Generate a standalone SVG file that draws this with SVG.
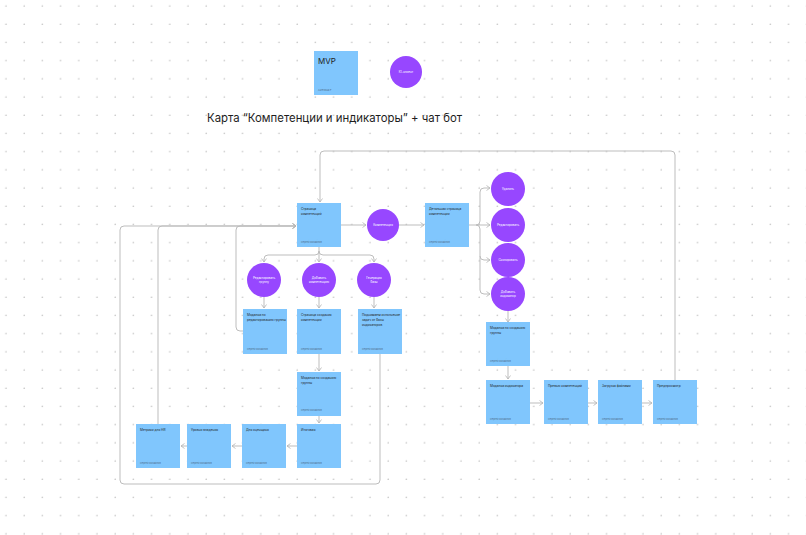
<svg xmlns="http://www.w3.org/2000/svg" width="806" height="535" viewBox="0 0 806 535">
<defs>
<pattern id="dots" x="0" y="0" width="18.2" height="18.2" patternUnits="userSpaceOnUse">
<circle cx="6" cy="6" r="0.8" fill="#c4c4c4"/>
</pattern>
<marker id="ah" markerWidth="6" markerHeight="6" refX="4.5" refY="3" orient="auto" markerUnits="userSpaceOnUse">
<path d="M1,0.5 L4.5,3 L1,5.5" fill="none" stroke="#b5b5b5" stroke-width="0.8"/>
</marker>
<style>
.st{fill:#80c6fd;}
.t{font-family:"Inter","Liberation Sans",sans-serif;font-size:3.2px;fill:#1e1e1e;}
.cap{font-family:"Inter","Liberation Sans",sans-serif;font-size:2.4px;fill:#4f6f8c;}
.ci{fill:#9747ff;}
.ct{font-family:"Inter","Liberation Sans",sans-serif;font-size:3px;fill:#ffffff;text-anchor:middle;}
.c{fill:none;stroke:#bdbdbd;stroke-width:1;}
.a{marker-end:url(#ah);}
</style>
</defs>
<rect width="806" height="535" fill="#ffffff"/>
<rect width="806" height="535" fill="url(#dots)"/>

<g id="mvp">
<rect class="st" x="314" y="51" width="44" height="44"/>
<text x="318" y="64" style="font-family:'Inter','Liberation Sans',sans-serif;font-size:8px;fill:#1e1e1e">MVP</text>
<text class="cap" x="318" y="91">Ангелина Р.</text>
</g>
<g id="client">
<circle class="ci" cx="406" cy="72" r="16"/>
<text class="ct" x="406" y="73">Ю-клиент</text>
</g>
<g id="title">
<text x="207" y="122" textLength="255" lengthAdjust="spacingAndGlyphs" style="font-family:'Inter','Liberation Sans',sans-serif;font-size:11.5px;fill:#1e1e1e">Карта “Компетенции и индикаторы” + чат бот</text>
</g>

<g id="connectors">
<path class="c a" d="M341,225 H366"/>
<path class="c a" d="M399,225 H424"/>
<path class="c a" d="M469,225 H476 Q480,225 480,221 V192 Q480,188 484,188 H490"/>
<path class="c a" d="M476,225 H490"/>
<path class="c a" d="M476,225 Q480,225 480,229 V256 Q480,260 484,260 H490"/>
<path class="c a" d="M480,256 V290 Q480,294 484,294 H490"/>
<path class="c a" d="M508,311 V322"/>
<path class="c a" d="M508,366 V379"/>
<path class="c a" d="M530,403 H543"/>
<path class="c a" d="M588,403 H597"/>
<path class="c a" d="M642,403 H652"/>
<path class="c a" d="M675,380 V155 Q675,151 671,151 H324 Q320,151 320,155 V202"/>
<path class="c a" d="M319,247 V262"/>
<path class="c a" d="M319,251 Q319,255 315,255 H268 Q264,255 264,259 V262"/>
<path class="c a" d="M319,251 Q319,255 323,255 H370 Q374,255 374,259 V262"/>
<path class="c a" d="M264,297 V308"/>
<path class="c a" d="M319,297 V308"/>
<path class="c a" d="M374,297 V308"/>
<path class="c a" d="M319,354 V371"/>
<path class="c a" d="M319,416 V423"/>
<path class="c a" d="M297,446 H287"/>
<path class="c a" d="M242,446 H232"/>
<path class="c a" d="M187,446 H181"/>
<path class="c a" d="M158,424 V230 Q158,226 162,226 H296"/>
<path class="c a" d="M243,331 H240 Q236,331 236,327 V230 Q236,226 240,226 H296"/>
<path class="c a" d="M380,354 V480 Q380,484 376,484 H124 Q120,484 120,480 V230 Q120,226 124,226 H296"/>
</g>

<g id="page-competencies">
<rect class="st" x="297" y="203" width="44" height="44"/>
<text class="t" x="301" y="210">Страница</text>
<text class="t" x="301" y="215">компетенций</text>
<text class="cap" x="301" y="243">Сергей Михайлов</text>
</g>
<g id="competency">
<circle class="ci" cx="383" cy="225" r="16"/>
<text class="ct" x="383" y="226">Компетенция</text>
</g>
<g id="detail-page">
<rect class="st" x="425" y="203" width="44" height="44"/>
<text class="t" x="429" y="210">Детальная страница</text>
<text class="t" x="429" y="215">компетенции</text>
<text class="cap" x="429" y="243">Сергей Михайлов</text>
</g>
<g id="delete">
<circle class="ci" cx="508" cy="189" r="17"/>
<text class="ct" x="508" y="190">Удалить</text>
</g>
<g id="edit">
<circle class="ci" cx="508" cy="225" r="17"/>
<text class="ct" x="508" y="226">Редактировать</text>
</g>
<g id="copy">
<circle class="ci" cx="508" cy="260" r="17"/>
<text class="ct" x="508" y="261">Скопировать</text>
</g>
<g id="add-indicator">
<circle class="ci" cx="508" cy="294" r="17"/>
<text class="ct" x="508" y="293">Добавить</text>
<text class="ct" x="508" y="297">индикатор</text>
</g>
<g id="modal-right">
<rect class="st" x="486" y="322" width="44" height="44"/>
<text class="t" x="490" y="329">Модалка по созданию</text>
<text class="t" x="490" y="334">группы</text>
<text class="cap" x="490" y="362">Сергей Михайлов</text>
</g>
<g id="indicator-modal">
<rect class="st" x="486" y="380" width="44" height="44"/>
<text class="t" x="490" y="387">Модалка индикатора</text>
<text class="cap" x="490" y="420">Сергей Михайлов</text>
</g>
<g id="preview-competencies">
<rect class="st" x="544" y="380" width="44" height="44"/>
<text class="t" x="548" y="387">Превью компетенций</text>
<text class="cap" x="548" y="420">Сергей Михайлов</text>
</g>
<g id="upload">
<rect class="st" x="598" y="380" width="44" height="44"/>
<text class="t" x="602" y="387">Загрузка файлами</text>
<text class="cap" x="602" y="420">Сергей Михайлов</text>
</g>
<g id="preview">
<rect class="st" x="653" y="380" width="44" height="44"/>
<text class="t" x="657" y="387">Предпросмотр</text>
<text class="cap" x="657" y="420">Сергей Михайлов</text>
</g>

<g id="edit-group">
<circle class="ci" cx="264" cy="280" r="17"/>
<text class="ct" x="264" y="279">Редактировать</text>
<text class="ct" x="264" y="283">группу</text>
</g>
<g id="add-competency">
<circle class="ci" cx="319" cy="280" r="17"/>
<text class="ct" x="319" y="279">Добавить</text>
<text class="ct" x="319" y="283">компетенцию</text>
</g>
<g id="generate-base">
<circle class="ci" cx="374" cy="280" r="17"/>
<text class="ct" x="374" y="279">Генерация</text>
<text class="ct" x="374" y="283">базы</text>
</g>
<g id="modal-edit-group">
<rect class="st" x="243" y="309" width="44" height="45"/>
<text class="t" x="247" y="316">Модалка по</text>
<text class="t" x="247" y="321">редактированию группы</text>
<text class="cap" x="247" y="350">Сергей Михайлов</text>
</g>
<g id="create-competency">
<rect class="st" x="297" y="309" width="44" height="45"/>
<text class="t" x="301" y="316">Страница создания</text>
<text class="t" x="301" y="321">компетенции</text>
<text class="cap" x="301" y="350">Сергей Михайлов</text>
</g>
<g id="base-tasks">
<rect class="st" x="358" y="309" width="44" height="45"/>
<text class="t" x="362" y="316">Поднимаем исполнение</text>
<text class="t" x="362" y="321">задач от базы</text>
<text class="t" x="362" y="326">индикаторов</text>
<text class="cap" x="362" y="350">Сергей Михайлов</text>
</g>
<g id="modal-center">
<rect class="st" x="297" y="372" width="44" height="44"/>
<text class="t" x="301" y="379">Модалка по созданию</text>
<text class="t" x="301" y="384">группы</text>
<text class="cap" x="301" y="411">Сергей Михайлов</text>
</g>
<g id="final">
<rect class="st" x="297" y="424" width="44" height="44"/>
<text class="t" x="301" y="431">Итоговая</text>
<text class="cap" x="301" y="464">Сергей Михайлов</text>
</g>
<g id="for-assessor">
<rect class="st" x="242" y="424" width="44" height="44"/>
<text class="t" x="246" y="431">Для оценщика</text>
<text class="cap" x="246" y="464">Сергей Михайлов</text>
</g>
<g id="levels">
<rect class="st" x="187" y="424" width="44" height="44"/>
<text class="t" x="191" y="431">Уровни владения</text>
<text class="cap" x="191" y="464">Сергей Михайлов</text>
</g>
<g id="hr-metrics">
<rect class="st" x="136" y="424" width="44" height="44"/>
<text class="t" x="140" y="431">Метрики для HR</text>
<text class="cap" x="140" y="464">Сергей Михайлов</text>
</g>
</svg>
